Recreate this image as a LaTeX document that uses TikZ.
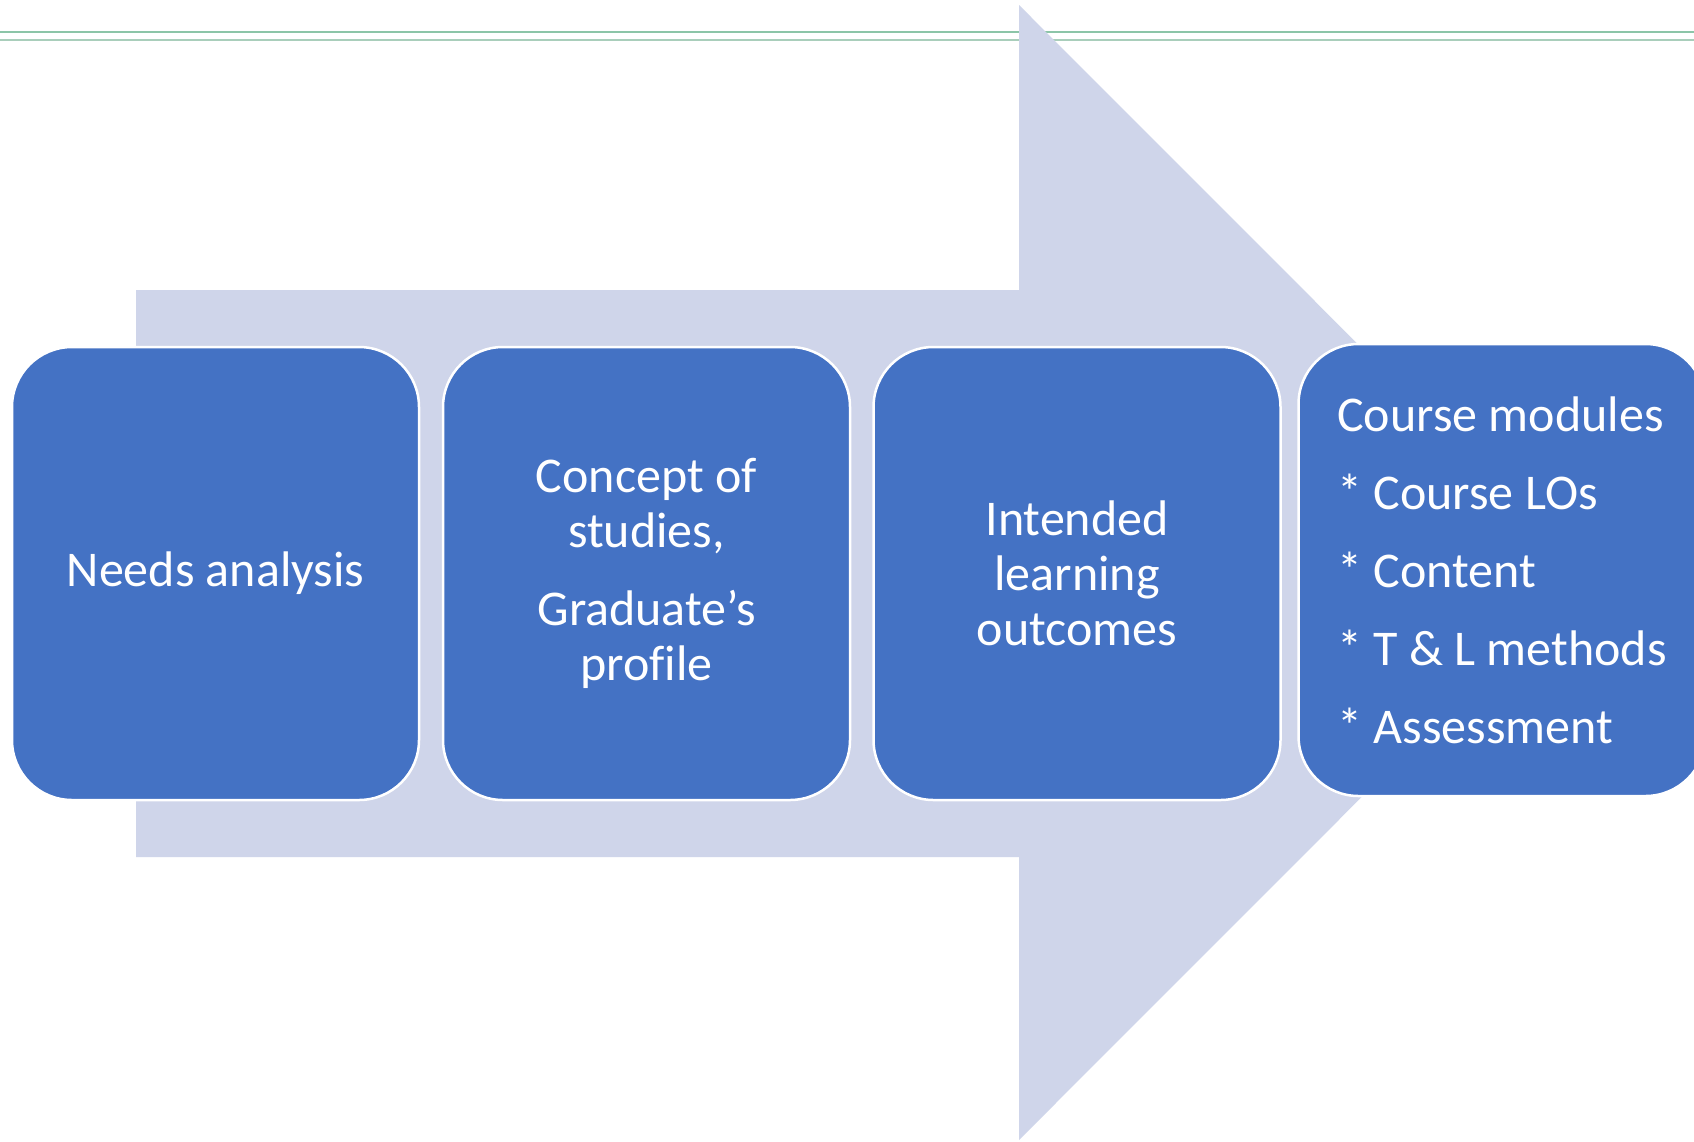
\documentclass[tikz,border=0pt]{standalone}
\usepackage{fontspec}
\setmainfont[Ligatures=CommonOff]{Carlito}
\definecolor{boxblue}{HTML}{4472C4}
\definecolor{arrowfill}{HTML}{CFD5EA}
\definecolor{rulegreenA}{HTML}{8CC5A8}
\definecolor{rulegreenB}{HTML}{A9CEBB}
\begin{document}
\begin{tikzpicture}[x=1pt,y=-1pt,
  stepbox/.style={draw=white, line width=2.5pt, fill=boxblue, rounded corners=60pt,
    minimum width=407pt, minimum height=453pt, text=white, align=center,
    font=\fontsize{50}{55}\selectfont, inner sep=0pt},
  topruleA/.style={draw=rulegreenA, line width=2pt},
  topruleB/.style={draw=rulegreenB, line width=2.5pt},
  bigarrow/.style={fill=arrowfill}
]
\useasboundingbox (0,0) rectangle (1694,1141);
\clip (0,0) rectangle (1694,1141);
\fill[white] (0,0) rectangle (1694,1141);
% top rules
\draw[topruleA] (0,32) -- (1694,32);
\draw[topruleB] (0,40) -- (1694,40);
% big background arrow
\fill[bigarrow] (136,290) -- (1019,290) -- (1019,5) -- (1586,572.5) -- (1019,1140) -- (1019,857) -- (136,857) -- cycle;
% boxes
\node[stepbox] (b1) at (215.5,573.5) {\raisebox{-3pt}{Needs analysis}};
\node[stepbox] (b2) at (646.5,573.5) {Concept of\\studies,\\[23pt]Graduate’s\\profile};
\node[stepbox] (b3) at (1077,573.5) {Intended\\learning\\outcomes};
\node[stepbox, minimum height=452pt, align=left, font=\fontsize{50}{78}\selectfont] (b4) at (1502,570)
  {Course modules\\* Course LOs\\* Content\\* T \& L methods\\* Assessment};
\end{tikzpicture}
\end{document}
